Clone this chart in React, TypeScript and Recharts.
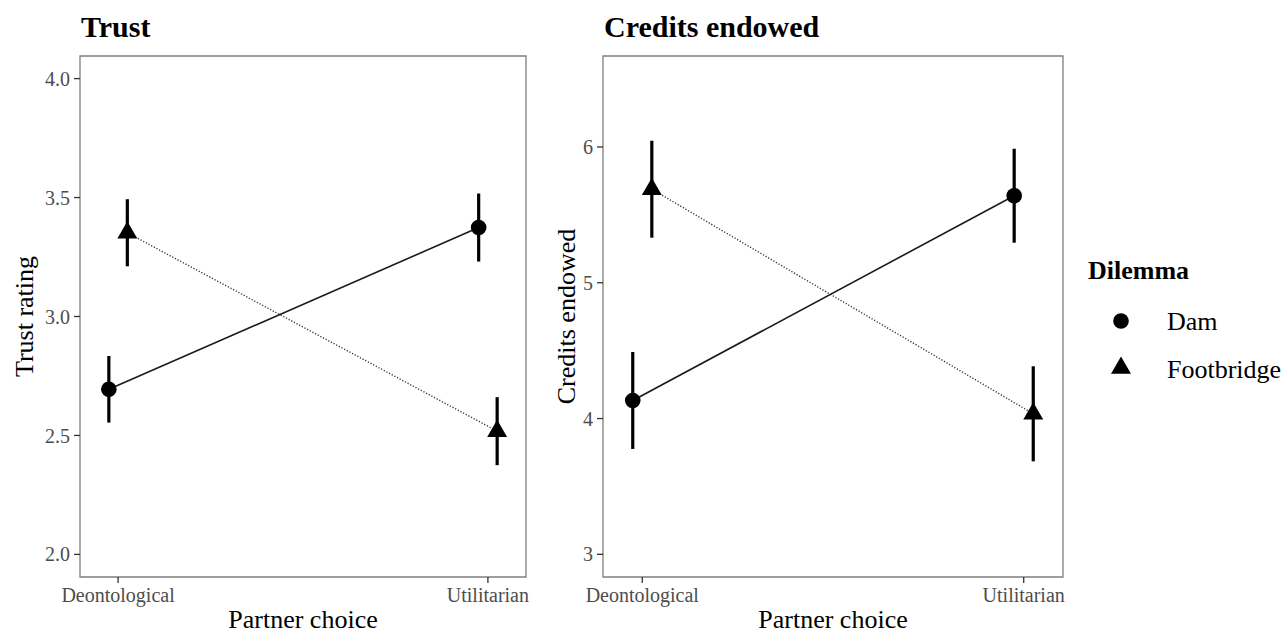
import React from "react";
import { ScatterChart, Scatter, XAxis, YAxis, ErrorBar, ReferenceArea } from "recharts";

const SERIF = "'Liberation Serif', 'Times New Roman', Times, serif";

const partnerChoices = ["Deontological", "Utilitarian"];
const dilemmas = ["Dam", "Footbridge"];

// Trust rating: means and CI half-widths, one entry per partner choice
const trustDam = [2.694, 3.374];
const trustDamCi = [0.14, 0.143];
const trustFootbridge = [3.352, 2.518];
const trustFootbridgeCi = [0.141, 0.143];
const trustTicks = [2.0, 2.5, 3.0, 3.5, 4.0];

// Credits endowed
const creditsDam = [4.133, 5.641];
const creditsDamCi = [0.357, 0.346];
const creditsFootbridge = [5.689, 4.035];
const creditsFootbridgeCi = [0.357, 0.35];
const creditsTicks = [3, 4, 5, 6];

const DODGE = 0.025;
const X_PAD = 0.103;
const TOP = 56;
const HEIGHT = 633;

const rows = (means: number[], cis: number[], shift: number) =>
  means.map((y, i) => ({ x: i + shift, y, ci: cis[i] }));

function DotShape(props: any) {
  const { cx, cy } = props;
  return <circle cx={cx} cy={cy} r={7.8} fill="#000" />;
}

function TriangleShape(props: any) {
  const { cx, cy } = props;
  const r = 11.5;
  const h = r * 0.866;
  return (
    <polygon
      points={`${cx},${cy - r} ${cx + h},${cy + r / 2} ${cx - h},${cy + r / 2}`}
      fill="#000"
    />
  );
}

const tickStyle = { fill: "#4d4d4d", fontSize: 20, fontFamily: SERIF };
const axisTitle = { fill: "#000", fontSize: 26, fontFamily: SERIF, textAnchor: "middle" as const };

type PanelProps = {
  left: number;
  width: number;
  yWidth: number;
  right: number;
  title: string;
  yLabel: string;
  yLabelOffset: number;
  domain: [number, number];
  ticks: number[];
  fmt: (v: number) => string;
  dam: number[];
  damCi: number[];
  foot: number[];
  footCi: number[];
};

function Panel(p: PanelProps) {
  const xDomain: [number, number] = [-X_PAD, partnerChoices.length - 1 + X_PAD];
  return (
    <div style={{ position: "absolute", left: p.left, top: 0, width: p.width, height: HEIGHT }}>
      <div
        style={{
          position: "absolute",
          left: p.yWidth + 1,
          top: 12,
          fontFamily: SERIF,
          fontWeight: "bold",
          fontSize: 30,
          lineHeight: "30px",
          whiteSpace: "nowrap",
          color: "#000",
        }}
      >
        {p.title}
      </div>
      <ScatterChart
        width={p.width}
        height={HEIGHT}
        margin={{ top: TOP, right: p.right, bottom: 0, left: 0 }}
      >
        <XAxis
          type="number"
          dataKey="x"
          domain={xDomain}
          allowDataOverflow
          ticks={partnerChoices.map((_, i) => i)}
          tickFormatter={(i: number) => partnerChoices[i]}
          height={56}
          axisLine={false}
          tickLine={{ stroke: "#333", strokeWidth: 1.3 }}
          tickSize={6}
          tickMargin={5}
          tick={tickStyle}
          interval={0}
          label={{ value: "Partner choice", position: "insideBottom", offset: 5, style: axisTitle }}
        />
        <YAxis
          type="number"
          dataKey="y"
          domain={p.domain}
          allowDataOverflow
          ticks={p.ticks}
          tickFormatter={p.fmt}
          width={p.yWidth}
          axisLine={false}
          tickLine={{ stroke: "#333", strokeWidth: 1.3 }}
          tickSize={6}
          tickMargin={4}
          tick={tickStyle}
          interval={0}
          label={{
            value: p.yLabel,
            angle: -90,
            position: "insideLeft",
            offset: p.yLabelOffset,
            style: axisTitle,
          }}
        />
        <ReferenceArea
          x1={xDomain[0]}
          x2={xDomain[1]}
          y1={p.domain[0]}
          y2={p.domain[1]}
          fill="none"
          stroke="#7f7f7f"
          strokeWidth={1.3}
          ifOverflow="visible"
        />
        <Scatter
          name={dilemmas[1]}
          data={rows(p.foot, p.footCi, DODGE)}
          fill="#000"
          line={{ stroke: "#333", strokeWidth: 1.4, strokeDasharray: "1.2 1.8" }}
          shape={TriangleShape}
          isAnimationActive={false}
        >
          <ErrorBar dataKey="ci" direction="y" width={0} stroke="#000" strokeWidth={3.2} />
        </Scatter>
        <Scatter
          name={dilemmas[0]}
          data={rows(p.dam, p.damCi, -DODGE)}
          fill="#000"
          line={{ stroke: "#1a1a1a", strokeWidth: 1.6 }}
          shape={DotShape}
          isAnimationActive={false}
        >
          <ErrorBar dataKey="ci" direction="y" width={0} stroke="#000" strokeWidth={3.2} />
        </Scatter>
      </ScatterChart>
    </div>
  );
}

function DilemmaLegend() {
  const shapes = [
    (x: number, y: number) => <circle cx={x} cy={y} r={7.8} fill="#000" />,
    (x: number, y: number) => (
      <polygon points={`${x},${y - 11.5} ${x + 10},${y + 5.75} ${x - 10},${y + 5.75}`} fill="#000" />
    ),
  ];
  return (
    <svg
      style={{ position: "absolute", left: 1075, top: 240 }}
      width={210}
      height={160}
      fontFamily={SERIF}
    >
      <text x={13} y={39} fontSize={26} fontWeight="bold" fill="#000">
        Dilemma
      </text>
      {dilemmas.map((d, i) => (
        <g key={d}>
          {shapes[i](46, 81 + i * 47)}
          <text x={92} y={89.5 + i * 48.5} fontSize={26} fill="#000">
            {d}
          </text>
        </g>
      ))}
    </svg>
  );
}

export default function App() {
  return (
    <div
      style={{
        position: "absolute",
        left: 0,
        top: 0,
        width: 1285,
        height: HEIGHT,
        background: "#fff",
        overflow: "hidden",
      }}
    >
      <Panel
        left={0}
        width={530}
        yWidth={80}
        right={4}
        title="Trust"
        yLabel="Trust rating"
        yLabelOffset={24}
        domain={[1.905, 4.095]}
        ticks={trustTicks}
        fmt={(v) => v.toFixed(1)}
        dam={trustDam}
        damCi={trustDamCi}
        foot={trustFootbridge}
        footCi={trustFootbridgeCi}
      />
      <Panel
        left={540}
        width={530}
        yWidth={63}
        right={7}
        title="Credits endowed"
        yLabel="Credits endowed"
        yLabelOffset={26}
        domain={[2.833, 6.67]}
        ticks={creditsTicks}
        fmt={(v) => String(v)}
        dam={creditsDam}
        damCi={creditsDamCi}
        foot={creditsFootbridge}
        footCi={creditsFootbridgeCi}
      />
      <DilemmaLegend />
    </div>
  );
}
